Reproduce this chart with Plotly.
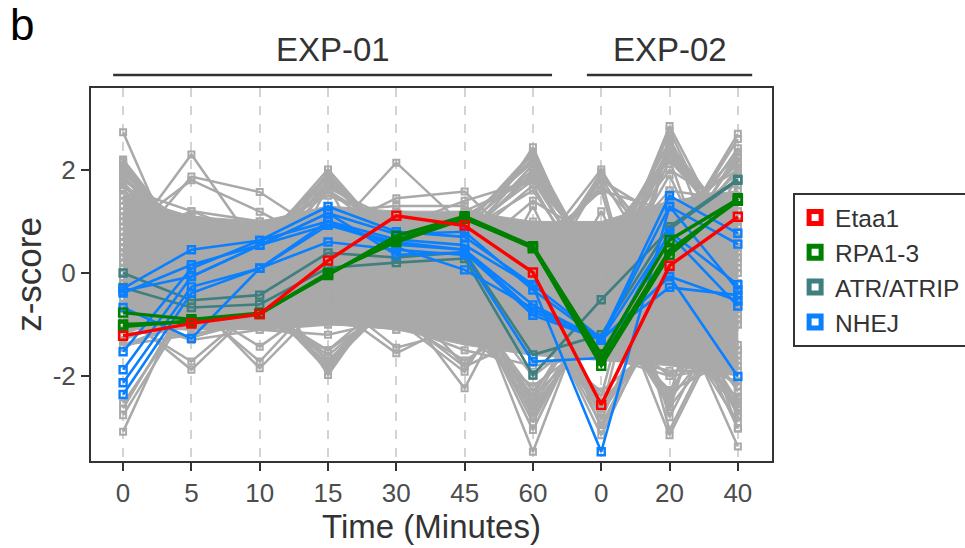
import plotly.graph_objects as go

# ---- data -----------------------------------------------------------------
time_labels = ["0", "5", "10", "15", "30", "45", "60", "0", "20", "40"]
x_pos = list(range(len(time_labels)))

# dense background band (bulk of all profiled proteins)
core_hi = [1.5, 1.1, 1.0, 1.3, 1.2, 1.2, 1.0, 1.0, 1.4, 1.6]
core_lo = [-1.1, -1.1, -1.1, -1.0, -1.1, -1.4, -1.6, -1.7, -1.8, -2.0]

# individual background profiles
grey_profiles = [
    [2.73, -0.30, 0.30, 0.60, 0.20, -0.30, -3.05, -0.30, 0.90, 0.50],
    [2.20, 0.50, 0.10, -1.98, -0.10, 0.40, 2.44, -0.50, -0.40, -3.37],
    [2.15, 0.50, 0.60, 0.40, 0.90, 0.80, 2.23, -0.20, -0.70, -0.60],
    [2.10, 0.30, -0.50, -1.80, -0.30, -0.20, -2.66, -0.80, 0.50, 2.70],
    [2.00, 0.60, 0.40, 1.94, 0.50, 0.90, 2.00, 0.20, -3.15, -0.50],
    [1.90, 0.20, 0.50, 2.01, 0.50, 0.70, 1.90, -0.40, 2.85, 0.30],
    [1.80, 0.90, 0.30, 1.60, 0.60, -0.10, -3.47, 0.00, 0.50, 2.42],
    [1.70, 0.40, 0.50, 0.80, 1.45, 1.58, 0.30, 2.01, -0.20, -3.02],
    [1.60, 0.70, 0.60, 1.90, 0.30, 0.60, 1.70, -0.60, 2.76, 0.00],
    [0.50, 2.30, 0.40, 1.00, 0.70, 0.50, -0.20, 1.90, 0.30, 2.26],
    [0.30, 1.87, 1.57, 0.70, 2.14, 0.90, 0.00, 1.80, -3.05, -0.40],
    [0.80, 1.80, 1.19, 0.50, 0.60, 0.80, 1.60, -0.30, 2.45, 0.40],
    [0.60, 1.20, 1.00, 0.90, 1.20, 1.00, 2.20, -0.20, -2.40, 2.13],
    [-3.08, -0.20, -0.40, 1.80, 0.60, 0.70, 0.10, 1.70, 0.40, 2.04],
    [-2.76, -0.60, -1.43, -0.50, -0.90, -1.92, 0.20, -2.72, 2.60, 0.20],
    [-0.90, -1.72, -0.60, -1.60, -0.50, -0.40, -2.50, -0.30, 2.30, 0.90],
    [-2.53, -0.60, -1.72, -0.30, -0.50, -2.24, 0.30, -3.02, -0.60, -2.60],
    [-0.80, -1.88, -0.60, -0.60, -0.20, -0.50, -2.30, -0.70, 2.19, 0.70],
    [-2.63, -0.40, -0.70, -1.50, -0.40, -1.80, -0.40, -3.15, -0.40, -2.50],
    [-1.20, -0.50, -0.30, -1.70, -0.40, -0.30, -2.00, -1.00, -2.27, -0.60],
    [-1.40, -1.20, -0.90, 1.70, -0.80, 0.20, -0.70, -2.50, -1.10, -2.20],
    [1.20, 0.00, -0.20, -0.90, -1.00, -1.30, -0.90, -1.60, -2.00, -1.00],
    [1.50, 1.00, 0.80, 1.50, 1.00, 1.20, 1.80, 0.20, 2.00, 1.20],
    [1.00, 1.10, 0.90, 1.20, 1.30, 1.30, 0.40, 1.60, 1.20, 2.00],
    [2.05, 0.60, 1.00, 1.20, 1.10, 0.90, 0.30, 0.60, 2.20, 1.00],
    [1.85, 0.80, 0.50, 1.70, 0.80, 1.10, 1.90, 0.10, 1.60, 1.40],
    [2.10, 0.10, 0.80, 1.30, 0.90, 1.40, 1.80, 0.20, 2.40, 0.80],
    [1.95, 0.60, 0.60, 1.85, 0.70, 0.70, 2.10, 0.00, 0.90, 2.30],
    [1.65, 1.20, 0.70, 1.60, 0.80, 1.20, 0.60, 0.30, 2.50, 0.80],
    [1.40, 0.90, 0.70, 1.75, 0.75, 1.00, 0.20, 1.80, 1.00, 2.10],
    [-1.10, -1.00, -1.10, -1.00, -1.00, -1.50, -1.80, -1.60, -1.90, -1.90],
    [-1.00, -1.10, -1.00, -0.90, -1.10, -1.20, -2.20, -1.20, -1.70, -2.10],
    [-1.45, -0.90, -0.50, -1.90, -0.20, -0.80, -2.60, -0.90, -2.00, -1.80],
    [-0.90, -1.30, -1.10, -1.20, -0.90, -1.70, -0.90, -2.60, -1.00, -2.45],
    [-1.20, -1.00, -0.55, -1.85, -0.30, -1.00, -2.40, -1.10, -1.40, -2.40],
    [-0.80, -0.50, -1.85, -0.50, -0.80, -1.82, -1.20, -2.30, -1.20, -2.20],
    [-1.30, -0.70, -0.65, -1.75, -0.35, -0.70, -2.70, -0.80, -2.30, -1.60],
    [-1.00, -1.25, -0.90, -1.50, -0.60, -1.20, -0.80, -2.70, -0.90, -2.55],
    [0.20, 0.10, 0.30, 0.50, 0.40, 0.30, 0.20, 0.10, 0.50, 0.30],
    [-0.40, -0.30, -0.20, -0.50, -0.30, -0.60, -0.80, -0.50, -0.60, -0.90],
    [0.80, 0.60, 0.50, 0.90, 0.70, 0.80, 1.00, 0.90, 1.10, 1.20],
    [-0.10, 0.20, -0.40, 0.20, -0.10, 0.00, -0.30, 0.40, 0.00, -0.20],
    [1.10, -0.50, 0.60, -0.80, 0.50, -0.90, 0.70, -1.20, 1.30, -1.40],
    [-0.80, 0.70, -0.60, 1.10, -0.70, 1.00, -1.10, 1.20, -1.40, 1.50],
    [0.40, -0.80, 0.80, -1.00, 1.00, -1.10, 1.30, -1.50, 1.60, -1.70],
    [-0.60, 0.90, -0.90, 1.30, -1.10, 1.10, -1.50, 0.80, -1.60, 1.70],
    [0.50, 0.30, 0.20, 0.70, 0.60, 0.90, 2.30, -0.10, -2.50, 1.00],
    [0.90, 0.20, 0.40, 0.60, 0.80, 0.70, 1.95, 0.10, 0.60, -2.80],
    [0.10, 0.00, 0.10, 0.30, -0.20, -0.30, -2.90, -0.40, 1.90, -1.00],
    [-0.20, -0.40, -0.30, 0.10, -0.10, -0.50, -2.40, -0.20, -1.30, 2.00],
    [0.30, 0.50, 0.60, 0.80, 0.40, 0.20, -0.40, 1.85, -0.30, -2.30],
    [-0.50, -0.20, 0.00, -0.30, 0.10, -0.10, 0.10, -2.85, 0.20, 1.60],
    [0.00, -0.60, -0.50, -0.20, -0.40, -0.60, -0.70, -2.40, 2.65, -0.80],
    [0.70, 0.40, 0.30, 0.50, 0.30, 0.60, 0.50, 1.60, -2.80, -0.20],
    [-0.70, -0.50, -0.60, -0.90, -0.60, -0.80, -0.50, 0.50, -2.65, 1.40],
    [0.20, 0.60, 0.40, 0.20, 0.00, 0.40, 0.80, -0.30, 0.60, -3.02],
    [-0.30, -0.10, -0.80, -0.40, -0.80, -0.90, -1.20, -0.80, 0.90, 2.15],
    [1.30, 0.90, 0.70, 1.10, 0.50, 0.30, 1.40, 0.60, 2.20, -1.50],
    [0.40, 0.20, -0.30, -0.60, -1.56, -0.90, -0.50, 0.30, -0.20, 0.10],
    [-0.20, 0.30, 0.00, -0.40, -1.45, -1.10, -1.30, -0.60, 0.30, -0.70],
    [2.18, 0.40, 0.50, 0.90, 0.40, 0.50, 0.60, 0.20, 0.80, 0.60],
    [2.05, 0.20, 0.30, 1.88, 0.60, 0.80, 1.80, -0.30, 2.30, 0.50],
    [1.75, 0.50, 0.20, 1.80, 0.50, 0.90, 2.35, -0.40, 0.50, 2.60],
    [-1.30, -0.80, -0.40, -1.90, -0.30, -0.40, -2.55, -0.70, -2.45, -0.80],
    [-1.20, -0.60, -0.50, -1.70, -0.50, -0.20, -2.80, -0.60, -0.80, -2.90],
    [0.60, 0.50, 0.70, 0.40, 0.60, 0.30, -0.10, 1.95, 0.20, 2.35],
    [-0.10, -0.30, 0.20, 0.00, 0.30, 0.10, -0.50, -2.95, -0.40, -2.75],
    [0.20, 0.40, 0.10, 0.40, 0.20, 0.50, 0.00, 0.20, 2.55, 0.30],
    [0.50, 0.10, 0.30, 0.60, 0.50, 0.20, 0.40, -0.10, 2.35, 0.60],
    [-0.60, -0.20, -0.50, -0.10, -0.60, -0.30, -0.90, -0.50, -2.60, -0.90],
    [0.10, -0.30, 0.00, -0.50, 0.20, -0.20, 0.30, -0.60, -1.00, -2.65],
    [1.00, 0.30, 0.60, 1.65, 1.00, 0.50, 0.90, 0.50, 0.70, 1.95],
    [-1.40, -0.90, -0.60, -1.80, -0.50, -0.50, -0.80, -2.55, -0.90, -1.50],
    [1.90, 0.30, 0.40, 0.70, 0.30, 0.40, 0.70, 0.50, 1.00, 0.90],
    [1.60, 0.10, 0.60, 0.90, 0.60, 1.00, 2.15, 0.00, 1.30, 1.70],
]

etaa1 = [
    [-1.22, -0.98, -0.80, 0.24, 1.11, 0.92, 0.01, -2.56, 0.14, 1.09],
]
rpa1_3 = [
    [-0.77, -0.90, -0.78, -0.04, 0.72, 1.10, 0.52, -1.58, 0.64, 1.43],
    [-1.04, -0.93, -0.80, -0.02, 0.64, 1.07, 0.48, -1.70, 0.44, 1.40],
    [-1.00, -0.95, -0.79, 0.00, 0.60, 1.05, 0.50, -1.80, 0.35, 1.45],
]
atr_atrip = [
    [0.00, -0.53, -0.43, 0.39, 0.30, 0.40, -1.59, -1.20, 0.90, 1.82],
    [-0.28, -0.67, -0.61, 0.10, 0.20, 0.28, -1.98, -0.52, 0.85, 1.80],
]
nhej = [
    [-0.30, 0.45, 0.63, 1.29, 0.80, 0.70, -0.23, -1.27, 1.50, 0.77],
    [-0.39, 0.16, 0.54, 1.16, 0.75, 0.80, -0.33, -1.30, 1.29, 0.56],
    [-0.67, -1.27, 0.09, 0.60, 0.45, 0.35, -1.72, -1.65, 0.80, -0.23],
    [-1.53, 0.09, 0.63, 1.00, 0.65, 0.54, -0.25, -3.47, 1.29, -0.33],
    [-1.88, -0.07, 0.54, 0.93, 0.55, 0.45, -0.62, -1.30, -0.07, -2.01],
    [-2.13, -0.27, 0.09, 1.00, 0.50, 0.06, -0.69, -1.27, -0.28, -0.43],
    [-2.36, -0.39, 0.09, 0.93, 0.60, 0.45, -0.75, -1.30, -0.07, -0.54],
    [-0.35, -0.07, 0.54, 1.16, 0.35, 0.40, -0.82, -1.30, 0.75, -0.64],
]

GREY = "#A9A9A9"
groups = [
    # name, profiles, colour, line width, marker size
    ("ATR/ATRIP", atr_atrip, "#3F7F7F", 2.6, 7),
    ("NHEJ", nhej, "#0A80FF", 2.6, 7),
    ("RPA1-3", rpa1_3, "#008000", 3.4, 8),
    ("Etaa1", etaa1, "#FF0000", 3.4, 8),
]
legend_order = ["Etaa1", "RPA1-3", "ATR/ATRIP", "NHEJ"]


def joined(profiles):
    xs, ys = [], []
    for p in profiles:
        xs += x_pos + [None]
        ys += list(p) + [None]
    return xs, ys


fig = go.Figure()

# solid bulk of the background profiles
fig.add_trace(go.Scatter(
    x=x_pos + x_pos[::-1], y=core_hi + core_lo[::-1],
    mode="lines", fill="toself", fillcolor=GREY,
    line=dict(color=GREY, width=1), hoverinfo="skip", showlegend=False))

gx, gy = joined(grey_profiles)
fig.add_trace(go.Scatter(
    x=gx, y=gy, mode="lines+markers", connectgaps=False,
    line=dict(color=GREY, width=2.5),
    marker=dict(symbol="square-open", size=6, color=GREY, line=dict(width=2, color=GREY)),
    hoverinfo="skip", showlegend=False))

for name, profiles, colour, lw, ms in groups:
    for p in profiles:
        fig.add_trace(go.Scatter(
            x=x_pos, y=p, mode="lines+markers", name=name,
            line=dict(color=colour, width=lw),
            marker=dict(symbol="square-open", size=ms, color=colour,
                        line=dict(width=2.4, color=colour)),
            showlegend=False))

# legend entries
colour_of = {g[0]: g[2] for g in groups}
for name in legend_order:
    fig.add_trace(go.Scatter(
        x=[None], y=[None], mode="markers", name=name,
        marker=dict(symbol="square-open", size=12, color=colour_of[name],
                    line=dict(width=5, color=colour_of[name]))))

TXT = "#333333"
FONT = "Liberation Sans, Arial, sans-serif"

# experiment brackets
for label, x0, x1 in [("EXP-01", -0.146, 6.28), ("EXP-02", 6.79, 9.21)]:
    fig.add_shape(type="line", xref="x", yref="paper", x0=x0, x1=x1, y0=1.035, y1=1.035,
                  line=dict(color=TXT, width=2.5))
    fig.add_annotation(x=(x0 + x1) / 2, y=1.102, xref="x", yref="paper", text=label,
                       showarrow=False, font=dict(size=33, color=TXT, family=FONT),
                       xanchor="center", yanchor="middle")

fig.add_annotation(x=-0.101, y=1.169, xref="paper", yref="paper", text="b",
                   showarrow=False, font=dict(size=44, color="#000000", family=FONT),
                   xanchor="center", yanchor="middle")

fig.update_layout(
    width=965, height=548,
    margin=dict(l=91, r=193, t=88, b=87, autoexpand=False),
    paper_bgcolor="white", plot_bgcolor="white",
    font=dict(family=FONT, color=TXT),
    showlegend=True,
    legend=dict(x=1.031, y=0.7185, xanchor="left", yanchor="top",
                bordercolor=TXT, borderwidth=2, bgcolor="white",
                font=dict(size=24.5, color=TXT, family=FONT),
                itemsizing="trace", tracegroupgap=0),
    xaxis=dict(range=[-0.47, 9.5], tickmode="array", tickvals=x_pos, ticktext=time_labels,
               showgrid=True, gridcolor="#D3D3D3", griddash="dash", gridwidth=2,
               zeroline=False, showline=True, mirror=True, linecolor=TXT, linewidth=2,
               ticks="outside", ticklen=8, tickwidth=2, tickcolor=TXT,
               tickfont=dict(size=26, color="#4D4D4D"),
               title=dict(text="Time (Minutes)", font=dict(size=33, color=TXT), standoff=8)),
    yaxis=dict(range=[-3.65, 3.59], tickvals=[-2, 0, 2], ticktext=["-2", "0", "2"],
               showgrid=False, zeroline=False, showline=True, mirror=True,
               linecolor=TXT, linewidth=2,
               ticks="outside", ticklen=8, tickwidth=2, tickcolor=TXT,
               tickfont=dict(size=26, color="#4D4D4D"),
               title=dict(text="z-score", font=dict(size=35, color=TXT), standoff=0)),
)

fig.write_html("out.html")
